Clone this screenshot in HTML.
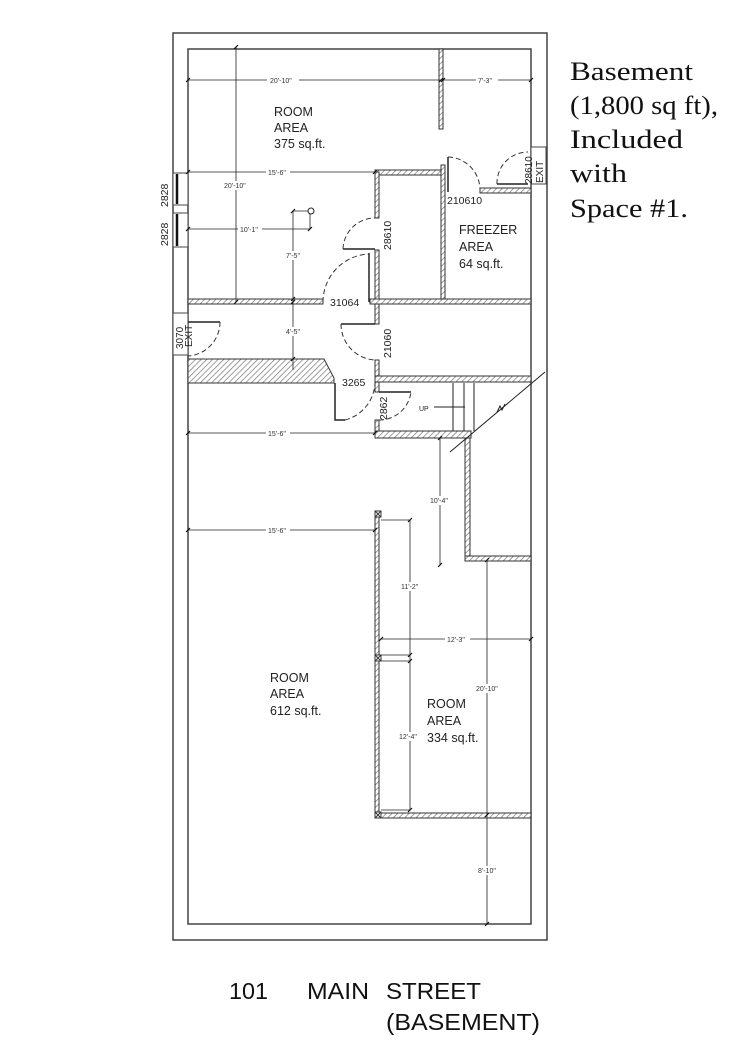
<!DOCTYPE html>
<html><head><meta charset="utf-8"><style>
html,body{margin:0;padding:0;background:#fff;}
svg{display:block;}
.d{font-family:"Liberation Sans",sans-serif;font-size:7px;fill:#333;}
.l{font-family:"Liberation Sans",sans-serif;font-size:12.5px;fill:#222;}
.m{font-family:"Liberation Sans",sans-serif;font-size:10.5px;fill:#222;}
</style></head><body>
<svg width="740" height="1047" viewBox="0 0 740 1047" xmlns="http://www.w3.org/2000/svg">
<defs>
<pattern id="h" patternUnits="userSpaceOnUse" width="4" height="4" patternTransform="rotate(45)">
<rect width="4" height="4" fill="#fff"/><line x1="0" y1="0" x2="0" y2="4" stroke="#777" stroke-width="1.4"/>
</pattern>
</defs>
<g fill="none" stroke="#444" stroke-width="1.5">
<rect x="173" y="33" width="374" height="907"/>
<rect x="188" y="49" width="343" height="875"/>
</g>
<g fill="url(#h)" stroke="#333" stroke-width="1">
<rect x="439" y="49" width="4" height="80"/>
<rect x="375" y="170" width="68" height="5"/>
<rect x="441" y="165" width="4" height="137"/>
<rect x="375" y="172" width="4" height="46"/>
<rect x="375" y="250" width="4" height="53"/>
<rect x="480" y="188" width="51" height="5"/>
<rect x="188" y="299" width="135" height="5"/>
<rect x="370" y="299" width="161" height="5"/>
<rect x="375" y="304" width="4" height="20"/>
<rect x="375" y="360" width="4" height="20"/>
<polygon points="188,359 324,359 334,378 334,383 188,383"/>
<rect x="375" y="376" width="156" height="6"/>
<rect x="375" y="382" width="4" height="10"/>
<rect x="375" y="420" width="4" height="12"/>
<rect x="375" y="431" width="96" height="7"/>
<rect x="465" y="438" width="5" height="122"/>
<rect x="465" y="556" width="66" height="5"/>
<rect x="375" y="514" width="4" height="303"/>
<rect x="375" y="813" width="156" height="5"/>
</g>
<g fill="#fff" stroke="#333" stroke-width="1">
<rect x="375" y="511" width="6" height="6"/><path d="M375 511l6 6M381 511l-6 6"/>
<rect x="375" y="655" width="6" height="6"/><path d="M375 655l6 6M381 655l-6 6"/>
<rect x="375" y="812" width="6" height="6"/><path d="M375 812l6 6M381 812l-6 6"/>
</g>
<g fill="#fff" stroke="#444" stroke-width="1">
<rect x="173" y="173" width="15" height="32"/>
<rect x="173" y="213" width="15" height="34"/>
<rect x="173" y="313" width="15" height="42"/>
<rect x="531" y="147" width="15" height="37"/>
</g>
<g stroke="#111" stroke-width="2.5">
<line x1="177" y1="174" x2="177" y2="204"/><line x1="177" y1="214" x2="177" y2="246"/>
</g>
<g fill="none" stroke="#222" stroke-width="1.5">
<path d="M343 249H375"/><path d="M369 253V302"/>
<path d="M341 324H375"/><path d="M335 383V420H345"/>
<path d="M379 392H411"/><path d="M448 157V192"/><path d="M497 184H528"/>
<path d="M188 322H220"/>
</g>
<g fill="none" stroke="#333" stroke-width="1" stroke-dasharray="5,3">
<path d="M343 249A32 32 0 0 1 375 218"/>
<path d="M323 302A48 48 0 0 1 369 254"/>
<path d="M341 324A36 36 0 0 0 375 360"/>
<path d="M345 420A40 40 0 0 0 375 383"/>
<path d="M379 420A32 32 0 0 0 411 392"/>
<path d="M448 157A33 33 0 0 1 480 190"/>
<path d="M497 184A31 31 0 0 1 528 152"/>
<path d="M220 322A34 34 0 0 1 188 356"/>
</g>
<g stroke="#222" stroke-width="1" fill="none">
<line x1="453" y1="383" x2="453" y2="431"/>
<line x1="464" y1="383" x2="464" y2="431"/>
<line x1="474" y1="383" x2="474" y2="431"/>
<line x1="434" y1="407" x2="465" y2="407"/>
<line x1="450" y1="452" x2="545" y2="372"/>
<path d="M497 412l3 -6 2 4 3 -6"/>
</g>
<g stroke="#222" stroke-width="0.8" fill="none">
<line x1="188" y1="80" x2="531" y2="80"/>
<line x1="236" y1="47" x2="236" y2="302"/>
<line x1="188" y1="172" x2="375" y2="172"/>
<line x1="188" y1="229" x2="310" y2="229"/>
<line x1="293" y1="211" x2="293" y2="370"/>
<line x1="293" y1="211" x2="310" y2="211"/><line x1="310" y1="211" x2="310" y2="229"/>
<line x1="188" y1="433" x2="375" y2="433"/>
<line x1="188" y1="530" x2="375" y2="530"/>
<line x1="440" y1="438" x2="440" y2="565"/>
<line x1="381" y1="520" x2="410" y2="520"/>
<line x1="410" y1="520" x2="410" y2="810"/>
<line x1="381" y1="639" x2="531" y2="639"/>
<line x1="381" y1="655" x2="410" y2="655"/><line x1="381" y1="661" x2="410" y2="661"/>
<line x1="381" y1="810" x2="410" y2="810"/>
<line x1="487" y1="560" x2="487" y2="924"/>
</g>
<g stroke="#111" stroke-width="1.2">
<path d="M186 82l4-4M439 82l4-4M441 82l4-4M529 82l4-4M234 49l4-4M234 304l4-4M186 174l4-4M373 174l4-4M186 231l4-4M291 213l4-4M291 304l4-4M291 301l4-4M308 231l4-4M291 361l4-4M186 435l4-4M373 435l4-4M186 532l4-4M373 532l4-4M438 440l4-4M438 567l4-4M408 522l4-4M408 657l4-4M408 663l4-4M408 812l4-4M379 641l4-4M529 641l4-4M485 562l4-4M485 817l4-4M485 926l4-4"/>
</g>
<circle cx="311" cy="211" r="3" fill="#fff" stroke="#222"/>
<g fill="#fff">
<rect x="267" y="76" width="32" height="8"/><rect x="476" y="76" width="22" height="8"/>
<rect x="266" y="168" width="24" height="8"/><rect x="222" y="181" width="30" height="9"/>
<rect x="238" y="225" width="24" height="8"/><rect x="284" y="251" width="20" height="9"/>
<rect x="284" y="327" width="20" height="9"/><rect x="266" y="429" width="24" height="8"/>
<rect x="266" y="526" width="24" height="8"/><rect x="428" y="496" width="24" height="9"/>
<rect x="399" y="582" width="22" height="9"/><rect x="445" y="635" width="25" height="8"/>
<rect x="474" y="684" width="28" height="9"/><rect x="397" y="732" width="24" height="9"/>
<rect x="476" y="866" width="24" height="9"/>
</g>
<g class="d">
<text x="270" y="83">20'-10"</text><text x="478" y="83">7'-3"</text>
<text x="268" y="175">15'-6"</text><text x="224" y="188">20'-10"</text>
<text x="240" y="232">10'-1"</text><text x="286" y="258">7'-5"</text>
<text x="286" y="334">4'-5"</text><text x="268" y="436">15'-6"</text>
<text x="268" y="533">15'-6"</text><text x="430" y="503">10'-4"</text>
<text x="401" y="589">11'-2"</text><text x="447" y="642">12'-3"</text>
<text x="476" y="691">20'-10"</text><text x="399" y="739">12'-4"</text>
<text x="478" y="873">8'-10"</text>
</g>
<g class="l">
<text x="274" y="116">ROOM</text><text x="274" y="132">AREA</text><text x="274" y="148">375 sq.ft.</text>
<text x="459" y="234">FREEZER</text><text x="459" y="251">AREA</text><text x="459" y="268">64 sq.ft.</text>
<text x="270" y="682">ROOM</text><text x="270" y="698">AREA</text><text x="270" y="715">612 sq.ft.</text>
<text x="427" y="708">ROOM</text><text x="427" y="725">AREA</text><text x="427" y="742">334 sq.ft.</text>
</g>
<g class="m">
<text x="447" y="204">210610</text>
<text x="330" y="306">31064</text>
<text x="342" y="386">3265</text>
<text x="419" y="411" font-size="7">UP</text>
<text transform="translate(391,250) rotate(-90)">28610</text>
<text transform="translate(391,358) rotate(-90)">21060</text>
<text transform="translate(387,420) rotate(-90)">2862</text>
<text transform="translate(168,207) rotate(-90)">2828</text>
<text transform="translate(168,246) rotate(-90)">2828</text>
<text transform="translate(183,349) rotate(-90)" font-size="10">3070</text>
<text transform="translate(192,347) rotate(-90)" font-size="10">EXIT</text>
<text transform="translate(532,184) rotate(-90)" font-size="10">28610</text>
<text transform="translate(543,183) rotate(-90)" font-size="10">EXIT</text>
</g>
<g font-family="Liberation Serif,serif" font-size="26" fill="#111">
<text x="570" y="80" textLength="123" lengthAdjust="spacingAndGlyphs">Basement</text>
<text x="570" y="114" textLength="148" lengthAdjust="spacingAndGlyphs">(1,800 sq ft),</text>
<text x="570" y="148" textLength="113" lengthAdjust="spacingAndGlyphs">Included</text>
<text x="570" y="182" textLength="57" lengthAdjust="spacingAndGlyphs">with</text>
<text x="570" y="217" textLength="118" lengthAdjust="spacingAndGlyphs">Space #1.</text>
</g>
<g font-family="Liberation Sans,sans-serif" font-size="23" fill="#111">
<text x="229" y="999" textLength="39" lengthAdjust="spacingAndGlyphs">101</text>
<text x="307" y="999" textLength="62" lengthAdjust="spacingAndGlyphs">MAIN</text>
<text x="386" y="999" textLength="95" lengthAdjust="spacingAndGlyphs">STREET</text>
<text x="386" y="1030" textLength="154" lengthAdjust="spacingAndGlyphs">(BASEMENT)</text>
</g>
</svg>
</body></html>
